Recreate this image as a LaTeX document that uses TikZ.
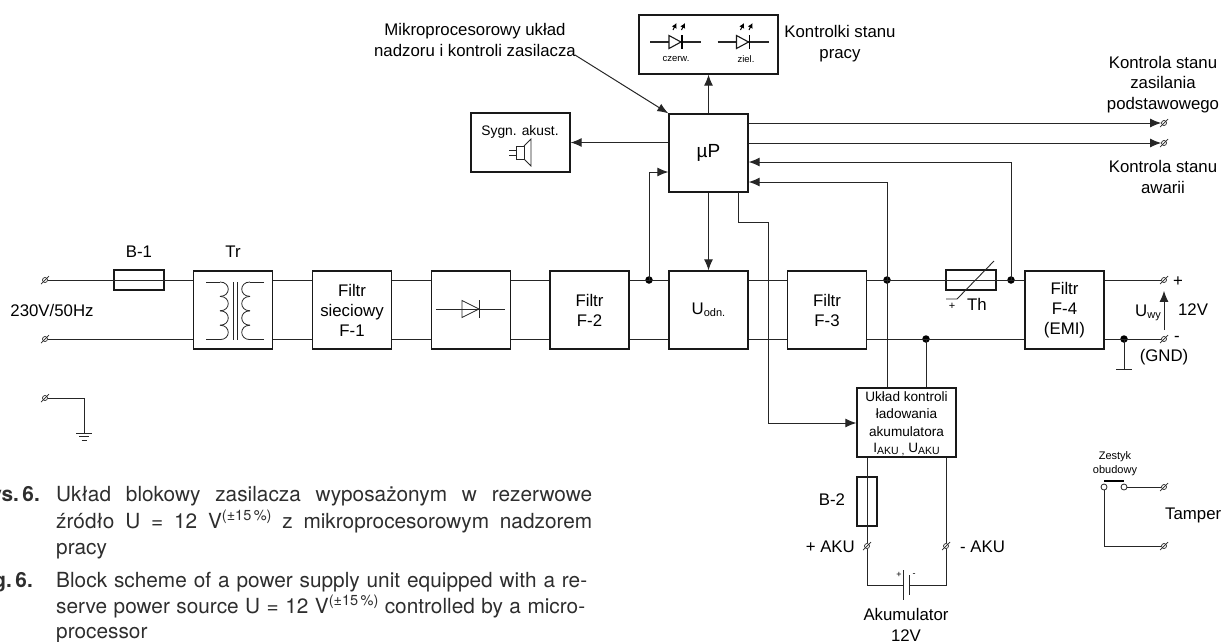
\documentclass[tikz,border=0pt]{standalone}
\usepackage{fontspec}
\setmainfont{Liberation Sans}
\newfontfamily\capfont{TeX Gyre Heros}
\usetikzlibrary{arrows.meta,calc}
\newcommand{\fz}[1]{\fontsize{#1}{#1}\selectfont}
\newcommand{\subtxt}[2]{#1\raisebox{-2.5pt}{\fz{11}#2}}
\newcommand{\capline}[2]{\makebox[#1pt][s]{#2}}
\newcommand{\capsup}{\raisebox{8pt}{\fz{14.5}(±15\,\%)}}
\tikzset{
  wire/.style={line width=1pt,draw=black!85},
  arr/.style={wire,-{Latex[length=11pt,width=9pt]}},
  block/.style={draw=black!90,line width=1.3pt,minimum width=79pt,minimum height=78pt,inner sep=0pt,align=center,
     font=\fontsize{16.8}{20}\selectfont},
  fuse/.style={draw=black!90,line width=1.3pt,inner sep=0pt,minimum width=50pt,minimum height=20pt},
  termn/.style={circle,draw=black!85,line width=0.7pt,inner sep=0pt,minimum size=5pt},
  dot/.style={circle,fill=black,inner sep=0pt,minimum size=7.5pt},
  lbl/.style={inner sep=0pt,align=center,font=\fontsize{16.8}{20.5}\selectfont},
  thinl/.style={line width=0.8pt,draw=black!85},
  capt/.style={inner sep=0pt,anchor=base west,text=black!82,font=\capfont\fontsize{20.8}{24}\selectfont},
  capb/.style={inner sep=0pt,anchor=base east,text=black!82,font=\capfont\bfseries\fontsize{20.8}{24}\selectfont}
}
\newcommand{\term}[2]{\node[termn] (#1) at (#2) {};
  \draw[line width=0.7pt,draw=black!85] ($(#1)+(-4,4)$) -- ($(#1)+(4,-4)$);}
\begin{document}
\begin{tikzpicture}[x=1pt,y=-1pt]
\useasboundingbox (0,0) rectangle (1223,641);
\clip (0,0) rectangle (1223,641);
\coordinate (T) at (0,280);
\coordinate (B) at (0,339);
% blocks
\node[block] (tr) at (233,310) {};
\node[block] (f1) at (352,310) {Filtr\\sieciowy\\F-1};
\node[block] (pr) at (471,310) {};
\node[block] (f2) at (589.5,310) {Filtr\\F-2};
\node[block] (ud) at (708.5,310) {\subtxt{U}{odn.}};
\node[block] (f3) at (827,310) {Filtr\\F-3};
\node[block] (f4) at (1064.5,310) {Filtr\\F-4\\(EMI)};
\node[block] (up) at (708.5,153) {\fz{19}µP};
\node[block,minimum width=139pt,minimum height=59pt] (led) at (708.5,44.5) {};
\node[block,minimum width=99pt,minimum height=59pt] (syg) at (520.5,142.5) {};
\node[block,minimum width=99pt,minimum height=69pt] (uk) at (906.5,422.5) {};
\node[inner sep=0pt,align=center,font=\fontsize{13.6}{17.3}\selectfont] (ukt) at (906.5,414) {Układ kontroli\\ładowania\\akumulatora};
\node[inner sep=0pt,font=\fz{13.6}] (uki) at (906.5,449) {I\raisebox{-2pt}{\fz{10.5}AKU ,} U\raisebox{-2pt}{\fz{10.5}AKU}};
\node[fuse] (b1) at (139,280) {};
\node[fuse] (th) at (971,280) {};
\node[fuse,minimum width=20pt,minimum height=49pt] (b2) at (867,501.5) {};
% terminals
\term{ia}{45,280}
\term{ib}{45,339}
\term{ig}{45,398}
\term{a1}{1164,123}
\term{a2}{1164,143}
\term{tp}{1164,280}
\term{tm}{1164,339}
\term{ap}{867,546}
\term{am}{946,546}
\term{z1}{1164,487}
\term{z2}{1164,546}
% dots
\node[dot] (d1) at (649,280) {};
\node[dot] (d2) at (887,280) {};
\node[dot] (d3) at (926,339) {};
\node[dot] (d4) at (1011,280) {};
\node[dot] (d5) at (1124,339) {};
% power lines
\draw[wire] (ia) -- (tr.west|-T);
\draw[wire] (ib) -- (tr.west|-B);
\draw[wire] (tr.east|-T) -- (f1.west|-T);
\draw[wire] (tr.east|-B) -- (f1.west|-B);
\draw[wire] (f1.east|-T) -- (pr.west|-T);
\draw[wire] (f1.east|-B) -- (pr.west|-B);
\draw[wire] (pr.east|-T) -- (f2.west|-T);
\draw[wire] (pr.east|-B) -- (f2.west|-B);
\draw[wire] (f2.east|-T) -- (ud.west|-T);
\draw[wire] (f2.east|-B) -- (ud.west|-B);
\draw[wire] (ud.east|-T) -- (f3.west|-T);
\draw[wire] (ud.east|-B) -- (f3.west|-B);
\draw[wire] (f3.east|-T) -- (f4.west|-T);
\draw[wire] (f3.east|-B) -- (f4.west|-B);
\draw[wire] (f4.east|-T) -- (tp);
\draw[wire] (f4.east|-B) -- (tm);
% control lines
\draw[arr] (up.north) -- (led.south);
\draw[arr] (up.west|-syg) -- (syg.east);
\draw[arr] (up.south) -- (ud.north);
\draw[arr] (d1.center) |- (up.west|-0,172);
\draw[arr] (up.east|-a1) -- (a1);
\draw[arr] (up.east|-a2) -- (a2);
\draw[arr] (d4.center) |- (up.east|-0,162);
\draw[arr] (uk.north-|d2) |- (up.east|-0,182);
\draw[wire] (d3.center) -- (uk.north-|d3);
\draw[arr] (738,192) -- (738,222) -- (768,222) -- (768,423) -- (uk.west|-0,423);
\draw[arr] (tm.north)++(0,-6) -- ($(tp.south)+(0,8)$);
% earth connections
\coordinate (ge) at (84,433);
\draw[wire] (ig) -| (ge);
\draw[wire] (76,433) -- (92,433) (79,436.5) -- (89,436.5) (81.5,440) -- (86.5,440);
\coordinate (gn) at (1124,369);
\draw[wire] (d5.center) -- (gn);
\draw[wire] (1116,369) -- (1132,369);
% thermistor
\draw[line width=0.9pt,draw=black!85] (994,261) -- (957,299) -- (946,299);
% battery
\coordinate (bl) at (867,585);
\coordinate (br) at (946,585);
\coordinate (cp) at (903,585);
\coordinate (cm) at (909,585);
\draw[wire] (uk.south-|ap) -- (ap);
\draw[wire] (ap) -- (bl) -- (cp);
\draw[wire] (uk.south-|am) -- (am);
\draw[wire] (am) -- (br) -- (cm);
\draw[wire] (903,570) -- (903,600);
\draw[wire] (909,575) -- (909,595);
\node[inner sep=0pt,font=\fz{9}] (bp) at (899,575) {+};
\node[inner sep=0pt,font=\fz{9}] (bm) at (914,575) {-};
% tamper
\node[circle,draw=black!85,line width=0.8pt,inner sep=0pt,minimum size=6pt,fill=white] (c1) at (1104,487) {};
\node[circle,draw=black!85,line width=0.8pt,inner sep=0pt,minimum size=6pt,fill=white] (c2) at (1124,487) {};
\draw[line width=1.3pt] (1104,481) -- (1124,481);
\draw[wire] (c2) -- (z1);
\draw[wire] (c1) |- (z2);
% transformer
\draw[thinl] (206,282) -- (220,282);
\draw[thinl] (206,339.6) -- (220,339.6);
\draw[thinl] (264,282) -- (250,282);
\draw[thinl] (264,339.6) -- (250,339.6);
\foreach \i in {0,1,2,3}{
  \pgfmathsetmacro{\ya}{282+14.4*\i}
  \pgfmathsetmacro{\yb}{282+14.4*(\i+1)}
  \draw[thinl] (220,\ya) .. controls (231,\ya) and (231,\yb) .. (220,\yb);
  \draw[thinl] (250,\ya) .. controls (239,\ya) and (239,\yb) .. (250,\yb);
}
\draw[thinl] (233,282) -- (233,339.6);
\draw[thinl] (237,282) -- (237,339.6);
% rectifier
\draw[thinl] (436,309) -- (505,309);
\draw[thinl] (462,300.5) -- (462,317.5) -- (479,309) -- cycle;
\draw[thinl] (479,300) -- (479,318);
% LEDs
\foreach \dx/\tx in {0/669,67.5/736.5}{
  \draw[wire,line width=1.1pt] (650+\dx,42) -- (701+\dx,42);
  \draw[line width=1.1pt,draw=black!90,fill=white] (669+\dx,35.5) -- (669+\dx,48.5) -- (681+\dx,42) -- cycle;
  \draw[line width=1.6pt] (682+\dx,35) -- (682+\dx,49);
  \draw[line width=1pt,-{Latex[length=5pt,width=5.5pt]}] (673+\dx,30) -- (676.5+\dx,23);
  \draw[line width=1pt,-{Latex[length=5pt,width=5.5pt]}] (681.5+\dx,30) -- (685+\dx,23);
}
% speaker
\draw[thinl] (509,150) -- (516,150) (509,155) -- (516,155);
\draw[thinl] (516,146) rectangle (524,159);
\draw[thinl] (524,146) -- (531,139) -- (531,166) -- (524,159);
% labels
\node[lbl] (lb1) at (139,252) {B-1};
\node[lbl] (ltr) at (233,252) {Tr};
\node[lbl] (lv) at (52,310) {230V/50Hz};
\node[lbl] (lm) at (475,40) {Mikroprocesorowy układ\\nadzoru i kontroli zasilacza};
\coordinate (mk) at (575,55);
\draw[wire,-{Latex[length=11pt,width=8.5pt]}] (mk) -- (up.north west);
\node[lbl] (lk) at (840,43.5) {Kontrolki stanu\\pracy};
\node[lbl] (lz) at (1163,84.5) {Kontrola stanu\\zasilania\\podstawowego};
\node[lbl] (la) at (1163,177) {Kontrola stanu\\awarii};
\node[inner sep=0pt,font=\fz{13.8}] (ls) at (520,131.5) {Sygn. akust.};
\node[inner sep=0pt,font=\fz{9.5}] (lc) at (676,59) {czerw.};
\node[inner sep=0pt,font=\fz{9.5}] (lzi) at (746,59) {ziel.};
\node[lbl] (lth) at (977,304) {Th};
\node[inner sep=0pt,font=\fz{11}] (lpl) at (952,306.5) {+};
\node[lbl] (lp) at (1178,282) {+};
\node[lbl] (lmi) at (1177,339) {-};
\node[lbl] (lu) at (1148,313) {\subtxt{U}{wy}};
\node[lbl] (l12) at (1193,310) {12V};
\node[lbl] (lg) at (1164,357) {(GND)};
\node[lbl] (lb2) at (832,500) {B-2};
\node[lbl,anchor=east] (lap) at (855,547) {+ AKU};
\node[lbl,anchor=west] (lam) at (960,547) {- AKU};
\node[lbl] (lak) at (906,625) {Akumulator\\12V};
\node[inner sep=0pt,align=center,font=\fontsize{11}{14}\selectfont] (lze) at (1115,464) {Zestyk\\obudowy};
\node[lbl,anchor=west] (lta) at (1165,515) {Tamper};
% caption
\node[capb] (r1) at (40,501.5) {Rys.\hspace{3.5pt}6.};
\node[capt] (c11) at (56,501.5) {\capline{536}{Układ blokowy zasilacza wyposażonym w rezerwowe}};
\node[capt] (c12) at (56,528) {\capline{536}{źródło U = 12 V\capsup{} z mikroprocesorowym nadzorem}};
\node[capt] (c13) at (56,554) {pracy};
\node[capb] (r2) at (33,587) {Fig.\hspace{3.5pt}6.};
\node[capt] (c21) at (56,587) {\capline{531}{Block scheme of a power supply unit equipped with a re-}};
\node[capt] (c22) at (56,613) {\capline{529}{serve power source U = 12 V\capsup{} controlled by a micro-}};
\node[capt] (c23) at (56,638) {processor};
\end{tikzpicture}
\end{document}
